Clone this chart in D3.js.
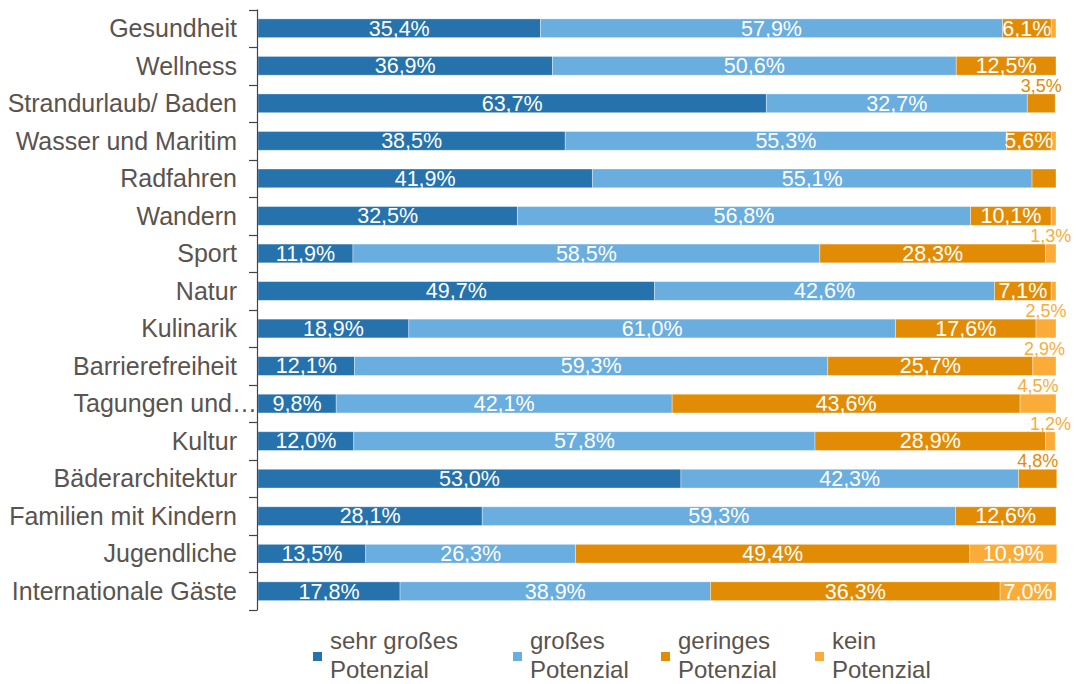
<!DOCTYPE html>
<html>
<head>
<meta charset="utf-8">
<script src="https://cdn.jsdelivr.net/npm/d3@7"></script>
<style>
  html, body { margin: 0; padding: 0; background: #fff; }
  svg { display: block; font-family: "Liberation Sans", Arial, sans-serif; }
</style>
</head>
<body>
<svg id="chart" width="1078" height="684"></svg>
<script>
const categories = ["Gesundheit", "Wellness", "Strandurlaub/ Baden", "Wasser und Maritim", "Radfahren", "Wandern", "Sport", "Natur", "Kulinarik", "Barrierefreiheit", "Tagungen und…", "Kultur", "Bäderarchitektur", "Familien mit Kindern", "Jugendliche", "Internationale Gäste"];
const seriesNames = [["sehr großes", "Potenzial"], ["großes", "Potenzial"], ["geringes", "Potenzial"], ["kein", "Potenzial"]];
const sehrGross = [35.4, 36.9, 63.7, 38.5, 41.9, 32.5, 11.9, 49.7, 18.9, 12.1, 9.8, 12.0, 53.0, 28.1, 13.5, 17.8];
const gross     = [57.9, 50.6, 32.7, 55.3, 55.1, 56.8, 58.5, 42.6, 61.0, 59.3, 42.1, 57.8, 42.3, 59.3, 26.3, 38.9];
const geringes  = [6.1, 12.5, 3.5, 5.6, 3.0, 10.1, 28.3, 7.1, 17.6, 25.7, 43.6, 28.9, 4.8, 12.6, 49.4, 36.3];
const kein      = [0.6, 0, 0, 0.6, 0, 0.6, 1.3, 0.6, 2.5, 2.9, 4.5, 1.2, 0, 0, 10.9, 7.0];
const hiddenLabels = ["Radfahren|2"];
const colors = ["#2672ac", "#6aaddf", "#e28c05", "#fbac38"];

const svg = d3.select("#chart");
const textColor = "#5a534e";

const x = d3.scaleLinear().domain([0, 100]).range([258, 1056]);
const y = d3.scaleBand().domain(categories).range([9.5, 610]).paddingInner(0.5).paddingOuter(0.25);

const seriesValues = [sehrGross, gross, geringes, kein];
const rows = categories.map((c, i) => {
  const r = { cat: c };
  seriesValues.forEach((arr, k) => r["s" + k] = arr[i]);
  return r;
});
const stack = d3.stack().keys(["s0", "s1", "s2", "s3"])(rows);

const fmt = v => v.toFixed(1).replace(".", ",") + "%";

// bars
stack.forEach((layer, k) => {
  svg.append("g").selectAll("rect")
    .data(layer)
    .join("rect")
    .attr("x", d => x(d[0]))
    .attr("y", d => y(d.data.cat))
    .attr("width", d => Math.max(0, x(d[1]) - x(d[0])))
    .attr("height", y.bandwidth())
    .attr("fill", colors[k])
    .attr("stroke", "rgba(255,255,255,0.45)")
    .attr("stroke-width", 0.8);
});

// labels
stack.forEach((layer, k) => {
  const g = svg.append("g");
  layer.forEach(d => {
    const v = d[1] - d[0];
    if (v < 1) return;
    if (hiddenLabels.includes(d.data.cat + "|" + k)) return;
    const cx = (x(d[0]) + x(d[1])) / 2;
    if (v < 5) {
      g.append("text")
        .attr("x", cx)
        .attr("y", y(d.data.cat) - 2)
        .attr("text-anchor", "middle")
        .attr("font-size", 18)
        .attr("fill", colors[k])
        .text(fmt(v));
    } else {
      g.append("text")
        .attr("x", cx)
        .attr("y", y(d.data.cat) + y.bandwidth() / 2)
        .attr("dy", "0.34em")
        .attr("text-anchor", "middle")
        .attr("font-size", 21.5)
        .attr("fill", "#ffffff")
        .text(fmt(v));
    }
  });
});

// axis
const axisG = svg.append("g");
axisG.append("line")
  .attr("x1", 257.5).attr("x2", 257.5)
  .attr("y1", 9.5).attr("y2", 610)
  .attr("stroke", "#444").attr("stroke-width", 1.2);
const boundaries = categories.map(c => y(c) - y.step() * y.paddingInner() / 2);
boundaries.push(y(categories[categories.length - 1]) + y.bandwidth() + y.step() * y.paddingInner() / 2);
axisG.selectAll("line.tick")
  .data(boundaries)
  .join("line")
  .attr("class", "tick")
  .attr("x1", 249).attr("x2", 257.5)
  .attr("y1", d => Math.round(d) + 0.5).attr("y2", d => Math.round(d) + 0.5)
  .attr("stroke", "#444").attr("stroke-width", 1.2);

axisG.selectAll("text.cat")
  .data(categories)
  .join("text")
  .attr("class", "cat")
  .attr("x", d => d.endsWith("…") ? 257 : 237)
  .attr("y", d => y(d) + y.bandwidth() / 2)
  .attr("dy", "0.35em")
  .attr("text-anchor", "end")
  .attr("font-size", 25)
  .attr("fill", textColor)
  .text(d => d);

// legend
const legendX = [313, 513, 661, 815];
const legend = svg.append("g");
seriesNames.forEach((parts, k) => {
  legend.append("rect")
    .attr("x", legendX[k]).attr("y", 652)
    .attr("width", 9).attr("height", 9)
    .attr("fill", colors[k]);
  const t = legend.append("text")
    .attr("font-size", 24)
    .attr("fill", textColor);
  t.append("tspan").attr("x", legendX[k] + 17).attr("y", 649).text(parts[0]);
  t.append("tspan").attr("x", legendX[k] + 17).attr("y", 678).text(parts[1]);
});
</script>
</body>
</html>
